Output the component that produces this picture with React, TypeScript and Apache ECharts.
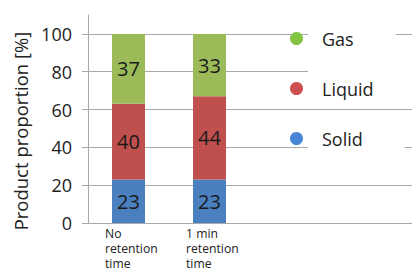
import React, { useEffect, useRef } from "react";
import * as echarts from "echarts";

const categories = ["No\nretention\ntime", "1 min\nretention\ntime"];
const solid = [23, 23];
const liquid = [40, 44];
const gas = [37, 33];
const yTicks = [0, 20, 40, 60, 80, 100];
const legendNames = ["Gas", "Liquid", "Solid"];

const FONT = "'Open Sans', 'Noto Sans', sans-serif";
const GRID = "#a9a9a9";
const TEXT = "#222222";

export default function App() {
  const ref = useRef<HTMLDivElement>(null);
  useEffect(() => {
    if (!ref.current) return;
    const chart = echarts.init(ref.current, null, { renderer: "svg" });
    const barColors = { Solid: "#4a7fc0", Liquid: "#c0504d", Gas: "#9bbb59" };
    const dotColors = { Solid: "#4a86d8", Liquid: "#cd4f4f", Gas: "#82c341" };
    const xData = [...categories, "", ""];
    const pad = (arr: number[]) => [...arr, null, null];
    const label = {
      show: true,
      position: "inside",
      fontSize: 20,
      fontFamily: FONT,
      color: "#1a1a1a",
    };
    chart.setOption({
      animation: false,
      textStyle: { fontFamily: FONT },
      grid: { left: 88, right: -12, top: 15, bottom: 48, containLabel: false },
      legend: {
        orient: "vertical",
        left: 290,
        top: 18.5,
        padding: 0,
        itemGap: 10,
        itemWidth: 13,
        itemHeight: 13,
        icon: "circle",
        data: legendNames.map((n) => ({ name: n, itemStyle: { color: (dotColors as any)[n] } })),
        textStyle: {
          fontSize: 18,
          fontFamily: FONT,
          color: TEXT,
          lineHeight: 22,
          backgroundColor: "#ffffff",
          padding: [12, 42, 6, 14],
        },
      },
      xAxis: {
        type: "category",
        data: xData,
        boundaryGap: true,
        axisLine: { show: true, lineStyle: { color: GRID, width: 1 } },
        axisTick: { show: false },
        axisLabel: {
          interval: 0,
          margin: 3,
          formatter: (v: string) =>
            v ? v.split("\n").map((s) => `{a|${s}}`).join("\n") : "",
          rich: {
            a: {
              width: 54,
              align: "left",
              fontSize: 12.2,
              lineHeight: 15,
              fontFamily: FONT,
              color: TEXT,
              padding: [0, 0, 0, 7],
            },
          },
        },
      },
      yAxis: {
        type: "value",
        min: 0,
        max: 110,
        interval: 20,
        name: "Product proportion [%]",
        nameLocation: "middle",
        nameGap: 58,
        nameTextStyle: {
          fontSize: 18.5,
          fontFamily: FONT,
          color: TEXT,
          padding: [0, 24, 0, 0],
        },
        axisLine: { show: true, lineStyle: { color: GRID, width: 1 } },
        axisTick: {
          show: true,
          length: 6,
          lineStyle: { color: GRID },
          customValues: yTicks,
        },
        axisLabel: {
          margin: 16,
          fontSize: 18,
          fontFamily: FONT,
          color: TEXT,
          customValues: yTicks,
        },
        splitLine: {
          show: true,
          lineStyle: { color: GRID, width: 1 },
        },
      },
      series: [
        { name: "Solid", type: "bar", stack: "t", barWidth: 33, data: pad(solid), itemStyle: { color: barColors.Solid }, label },
        { name: "Liquid", type: "bar", stack: "t", barWidth: 33, data: pad(liquid), itemStyle: { color: barColors.Liquid }, label },
        { name: "Gas", type: "bar", stack: "t", barWidth: 33, data: pad(gas), itemStyle: { color: barColors.Gas }, label },
      ],
    });
    return () => chart.dispose();
  }, []);
  return <div ref={ref} style={{ width: 412, height: 271, position: "absolute", left: 0, top: 0 }} />;
}
